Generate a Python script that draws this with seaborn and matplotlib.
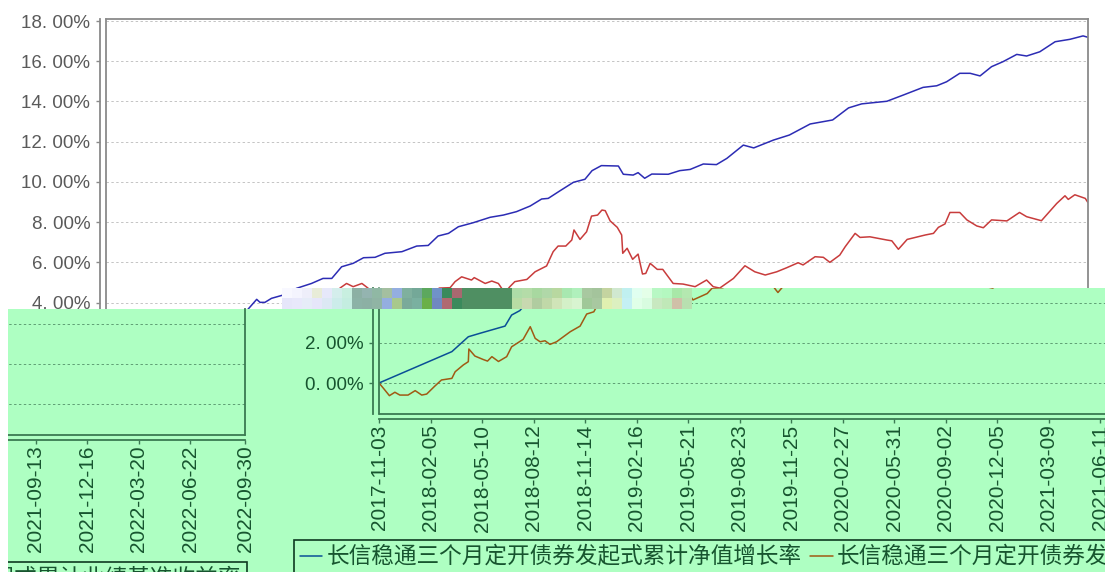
import pandas as pd
import numpy as np
import matplotlib
matplotlib.use('Agg')
import matplotlib.pyplot as plt
from matplotlib.colors import to_rgb
from matplotlib.patches import Rectangle
import seaborn as sns

# --- data (days since first date, percent) ---
start_date = '2017-11-03'
end_date = '2022-09-30'

blue_days = [0, 133, 163, 184, 230, 242, 257, 275, 281, 290, 302, 324, 348, 375, 396, 412,
             430, 451, 470, 491, 509, 540, 567, 588, 606, 625, 643, 670, 701, 725, 749, 774,
             795, 807, 828, 853, 874, 887, 904, 935, 944, 962, 971, 983, 996, 1026, 1047,
             1066, 1090, 1114, 1133, 1163, 1182, 1218, 1247, 1285, 1326, 1355, 1379, 1425,
             1455, 1491, 1516, 1534, 1558, 1577, 1595, 1616, 1637, 1662, 1680, 1704, 1732,
             1759, 1783, 1792]
blue_values = [0.0, 1.56, 2.30, 2.47, 2.83, 3.38, 3.60, 4.16, 4.01, 4.01, 4.21, 4.38, 4.71, 4.95,
               5.20, 5.20, 5.78, 5.95, 6.23, 6.25, 6.45, 6.53, 6.81, 6.84, 7.31, 7.44, 7.77,
               7.97, 8.24, 8.35, 8.52, 8.80, 9.15, 9.18, 9.55, 9.98, 10.13, 10.56, 10.81, 10.79,
               10.38, 10.34, 10.46, 10.18, 10.39, 10.38, 10.56, 10.62, 10.89, 10.86, 11.17,
               11.83, 11.69, 12.08, 12.33, 12.88, 13.08, 13.68, 13.88, 14.01, 14.32, 14.70,
               14.78, 14.98, 15.40, 15.40, 15.27, 15.73, 15.98, 16.34, 16.26, 16.47, 16.97,
               17.09, 17.26, 17.19]

red_days = [0, 8, 19, 29, 38, 53, 66, 78, 87, 102, 114, 133, 139, 154, 163, 164, 175, 190, 198,
            206, 218, 233, 242, 263, 276, 285, 294, 303, 312, 324, 349, 367, 379, 392, 403, 418,
            427, 439, 451, 467, 478, 491, 509, 527, 536, 551, 560, 573, 599, 608, 628, 637, 649,
            658, 667, 672, 692, 704, 716, 722, 728, 737, 746, 768, 783, 804, 816, 825, 839, 850,
            854, 865, 877, 886, 897, 905, 911, 920, 933, 941, 943, 951, 961, 971, 979, 985, 993,
            1006, 1016, 1035, 1053, 1075, 1096, 1108, 1120, 1145, 1166, 1184, 1203, 1224, 1242,
            1263, 1272, 1294, 1309, 1321, 1339, 1349, 1367, 1376, 1394, 1425, 1434, 1446, 1462,
            1495, 1510, 1519, 1531, 1540, 1558, 1571, 1589, 1601, 1616, 1644, 1667, 1680, 1707,
            1735, 1750, 1756, 1768, 1787, 1792]
red_values = [0.0, -0.26, -0.63, -0.46, -0.60, -0.60, -0.38, -0.60, -0.55, -0.15, 0.15, 0.23, 0.56,
              0.90, 1.06, 1.69, 1.34, 1.17, 1.09, 1.31, 1.07, 1.31, 1.80, 2.17, 2.80, 2.22, 2.05,
              2.10, 1.92, 2.05, 2.55, 2.83, 3.43, 3.54, 4.10, 4.30, 4.72, 4.95, 4.79, 4.95, 4.72,
              4.40, 4.10, 3.90, 3.97, 4.30, 4.65, 4.13, 4.45, 4.72, 4.74, 5.04, 5.28, 5.20, 5.12,
              5.24, 4.95, 5.07, 4.95, 4.71, 4.50, 4.79, 5.04, 5.15, 5.53, 5.82, 6.53, 6.81, 6.81,
              7.11, 7.61, 7.14, 7.52, 8.30, 8.35, 8.60, 8.57, 8.06, 7.74, 7.36, 6.45, 6.70, 6.15,
              6.41, 5.42, 5.45, 5.95, 5.65, 5.65, 4.95, 4.92, 4.79, 5.12, 4.79, 4.72, 5.20, 5.83,
              5.53, 5.37, 5.53, 5.73, 5.98, 5.87, 6.28, 6.25, 6.00, 6.36, 6.78, 7.44, 7.24, 7.27,
              7.11, 7.07, 6.65, 7.14, 7.36, 7.44, 7.74, 7.91, 8.48, 8.48, 8.11, 7.81, 7.72, 8.11,
              8.06, 8.48, 8.27, 8.07, 8.93, 9.31, 9.13, 9.36, 9.18, 8.97]

x_tick_labels = ['2017-11-03', '2018-02-05', '2018-05-10', '2018-08-12', '2018-11-14', '2019-02-16',
                 '2019-05-21', '2019-08-23', '2019-11-25', '2020-02-27', '2020-05-31', '2020-09-02',
                 '2020-12-05', '2021-03-09', '2021-06-11', '2021-09-13', '2021-12-16', '2022-03-20',
                 '2022-06-22', '2022-09-30']
y_ticks = [0, 2, 4, 6, 8, 10, 12, 14, 16, 18]

blue_name = '长信稳通三个月定开债券发起式累计净值增长率'
red_name = '长信稳通三个月定开债券发起式累计业绩基准收益率'
title_text = '累计净值增长率'

# the scrambled band of the picture, two rows of colour blocks
band_upper = ['#f8f8ff', '#f4f4fe', '#eeeefa', '#e8ecd8', '#e6e8fa', '#d4eeec', '#c8efe0', '#8cb0a4',
              '#94b4b0', '#90b8a4', '#a4bfa0', '#94aee0', '#7fb09e', '#74a898', '#5ca85e', '#7092c8',
              '#3a8a5c', '#a86870', '#4f8f62', '#4f8f62', '#4f8f62', '#4f8f62', '#4f8f62', '#aedca8',
              '#b4dca8', '#a8d8a0', '#b0d8a8', '#b8d8a0', '#a8e8b0', '#b0f0bc', '#a8c8a0', '#a4c49c',
              '#c4d4a0', '#d0e8d0', '#c0f0f0', '#e0fff0', '#e4ffe8', '#b8f8c4', '#b4f8c0', '#a8e8a8',
              '#b4e8b0']
band_lower = ['#e6e6fa', '#e8e8fb', '#e6ecf8', '#e6e6fa', '#dce8f4', '#ccecea', '#c4ede0', '#8cb2a6',
              '#8cb0a4', '#90b4a4', '#94aee0', '#a8c88c', '#7aaa9a', '#7ab0a0', '#6ab048', '#7088c0',
              '#b06a70', '#3a8a5c', '#4f8f62', '#4f8f62', '#4f8f62', '#4f8f62', '#4f8f62', '#b8dca4',
              '#c8d8b0', '#b0cca0', '#c0d8a8', '#d0e4b8', '#d4f0c8', '#d8f4d0', '#a0c898', '#a8c8a0',
              '#e0f0b0', '#dcf0c0', '#c4f0f4', '#e0ffe8', '#d8fce0', '#c8e8c0', '#c0e8b8', '#d0c0a8',
              '#b8e0b0']

W, H = 1105, 572
PLOT_W = 982        # width of the chart frame in pixels
Y_ZERO = 383        # pixel row of 0.00%
PX_PER_PCT = 20.11
GREEN = '#aeffc2'

sns.set_theme(style='white')
plt.rcParams['font.family'] = ['Noto Sans CJK SC', 'DejaVu Sans']
plt.rcParams['axes.unicode_minus'] = False

first_day = pd.Timestamp(start_date)
df_blue = pd.DataFrame({'date': first_day + pd.to_timedelta(blue_days, unit='D'), 'value': blue_values})
df_red = pd.DataFrame({'date': first_day + pd.to_timedelta(red_days, unit='D'), 'value': red_values})
tick_dates = pd.to_datetime(x_tick_labels)

fig = plt.figure(figsize=(W / 100, H / 100), dpi=100, facecolor='white')


def cover(x0, y0, x1, y1, color, z):
    fig.add_artist(Rectangle((x0 / W, 1 - y1 / H), (x1 - x0) / W, (y1 - y0) / H,
                             transform=fig.transFigure, fc=color, ec='none', zorder=z))


def draw_panel(left, top, bottom, shift, z, line_blue, line_red, grid_col, frame_col, text_col, show_top):
    # the same chart is drawn three times, moved to where the picture has it
    ax = fig.add_axes([left / W, 1 - bottom / H, PLOT_W / W, (bottom - top) / H], zorder=z)
    ax.patch.set_alpha(0)
    zero = Y_ZERO + shift
    sns.lineplot(data=df_blue, x='date', y='value', ax=ax, color=line_blue, lw=1.1,
                 estimator=None, label=blue_name, legend=False)
    sns.lineplot(data=df_red, x='date', y='value', ax=ax, color=line_red, lw=1.1,
                 estimator=None, label=red_name, legend=False)
    ax.set_xlabel('')
    ax.set_ylabel('')

    ax.set_yticks(y_ticks)
    ax.set_yticklabels([f'{v:.2f}%'.replace('.', '. ') for v in y_ticks])
    ax.set_xticks(tick_dates)
    ax.set_xticklabels(x_tick_labels)
    ax.tick_params(axis='y', length=3, width=1, color=frame_col, left=True, pad=4, labelsize=13.5,
                   labelcolor=text_col, labelfontfamily='Liberation Sans')
    ax.tick_params(axis='x', length=3, width=1, color=frame_col, bottom=True, pad=1, labelrotation=90,
                   labelsize=15, labelcolor=text_col, labelfontfamily='Liberation Sans')
    ax.grid(axis='y', color=grid_col, linestyle=(0, (2.5, 2.5)), linewidth=0.7)
    ax.grid(axis='x', visible=False)

    # limits last, set_yticks would widen them
    ax.set_xlim(first_day, pd.Timestamp(end_date))
    ax.set_ylim((zero - bottom) / PX_PER_PCT, (zero - top) / PX_PER_PCT)

    for side in ax.spines:
        ax.spines[side].set_color(frame_col)
        ax.spines[side].set_linewidth(1.3)
    ax.spines['left'].set_position(('outward', 4.3))
    ax.spines['bottom'].set_position(('outward', 3.6))
    ax.spines['top'].set_visible(show_top)
    # inner frame next to the moved axis lines
    ax.axvline(first_day, color=frame_col, lw=1.3, clip_on=False)
    ax.axhline(ax.get_ylim()[0], color=frame_col, lw=1.3, clip_on=False)
    return ax


# white chart on top
ax_top = draw_panel(106, 19, 414, 0, 1, '#2c2cb4', '#c83c3c', '#c4c4c4', '#8a8a8a', '#5a5a5a', True)
fig.text(565 / W, 1 + 2 / H, title_text, fontsize=16, color='#666666', ha='center', va='baseline')

# green part of the picture
cover(8, 309, W, H, GREEN, 2)
cover(692, 288, W, 309, GREEN, 2)

# right green part = chart moved right by 273 px
ax_right = draw_panel(379, 288, 414, 0, 3, '#0a4f96', '#a05a14', '#5f9f74', '#3a7a52', '#17552f', False)
# left green part = the end of the same chart, wrapped round
ax_left = draw_panel(379 - 1116, 309, 435, 21, 3, '#0a4f96', '#a05a14', '#5f9f74', '#3a7a52', '#17552f', False)

for ax, lx, ly in [(ax_right, 294, 540), (ax_left, 294 - 1116, 562)]:
    handles, labels = ax.get_legend_handles_labels()
    leg = ax.legend(handles, labels, ncol=2, loc='upper left', bbox_to_anchor=(lx / W, 1 - ly / H),
                    bbox_transform=fig.transFigure, fontsize=16.3, borderaxespad=0, borderpad=0.25,
                    handlelength=1.0, handletextpad=0.2, columnspacing=0.35, frameon=True,
                    fancybox=False, facecolor='none', framealpha=1, edgecolor='#0e3a20',
                    labelcolor='#17552f')
    leg.get_frame().set_linewidth(1.2)
    leg.set_clip_on(False)

# scrambled band
ax_band = fig.add_axes([282 / W, 1 - 309 / H, 410 / W, 21 / H], zorder=6)
band = np.array([[to_rgb(c) for c in band_upper], [to_rgb(c) for c in band_lower]])
ax_band.imshow(band, aspect='auto', interpolation='nearest')
ax_band.axis('off')

# white margin left of the green part
cover(0, 309, 8, H, 'white', 10)

fig.savefig('out.png', dpi=100)
